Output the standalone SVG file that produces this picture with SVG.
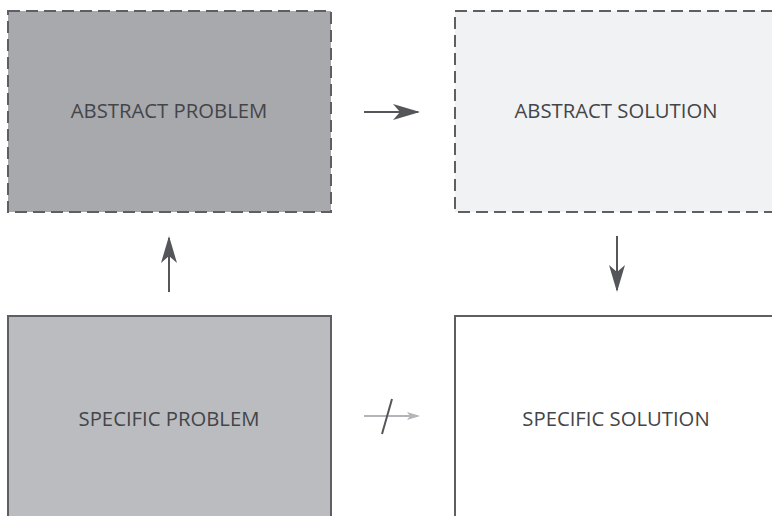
<svg xmlns="http://www.w3.org/2000/svg" width="772" height="516" viewBox="0 0 772 516">
  <style>
    .box { stroke: #5e5f62; stroke-width: 2; }
    .dashed { stroke-dasharray: 12 6; }
    .label { font-family: "Open Sans", "Noto Sans", "Liberation Sans", sans-serif; font-size: 20.3px; fill: #444548; text-anchor: middle; }
    .conn { stroke: #555659; stroke-width: 2; fill: none; }
    .conn-light { stroke: #b4b5b8; stroke-width: 2; fill: none; }
  </style>
  <defs>
    <marker id="head" viewBox="0 0 27 16" refX="25" refY="8" markerWidth="27" markerHeight="16" markerUnits="userSpaceOnUse" orient="auto">
      <path d="M0,0 L27,8 L0,16 L7,8 z" fill="#555659"/>
    </marker>
    <marker id="head-light" viewBox="0 0 13 8" refX="11" refY="4" markerWidth="13" markerHeight="8" markerUnits="userSpaceOnUse" orient="auto">
      <path d="M0,0 L13,4 L0,8 L3,4 z" fill="#b4b5b8"/>
    </marker>
  </defs>
  <rect width="772" height="516" fill="#ffffff"/>

  <g id="abstract-problem">
    <rect class="box dashed" x="8" y="11" width="323" height="201" fill="#a8a9ad"/>
    <text class="label" x="169" y="118">ABSTRACT PROBLEM</text>
  </g>
  <g id="abstract-solution">
    <rect class="box dashed" x="455" y="11" width="330" height="201" fill="#f1f2f4"/>
    <text class="label" x="616" y="118">ABSTRACT SOLUTION</text>
  </g>
  <g id="specific-problem">
    <rect class="box" x="8" y="316" width="323" height="220" fill="#bbbcc0"/>
    <text class="label" x="169" y="426">SPECIFIC PROBLEM</text>
  </g>
  <g id="specific-solution">
    <rect class="box" x="455" y="316" width="330" height="220" fill="#ffffff"/>
    <text class="label" x="616" y="426">SPECIFIC SOLUTION</text>
  </g>

  <g id="connectors">
    <line class="conn" x1="364" y1="112" x2="418" y2="112" marker-end="url(#head)"/>
    <line class="conn" x1="169" y1="292" x2="169" y2="238" marker-end="url(#head)"/>
    <line class="conn" x1="617" y1="236" x2="617" y2="290" marker-end="url(#head)"/>
    <line class="conn-light" x1="364" y1="416" x2="418" y2="416" marker-end="url(#head-light)"/>
    <line class="conn" x1="392" y1="399" x2="382" y2="434"/>
  </g>
</svg>
